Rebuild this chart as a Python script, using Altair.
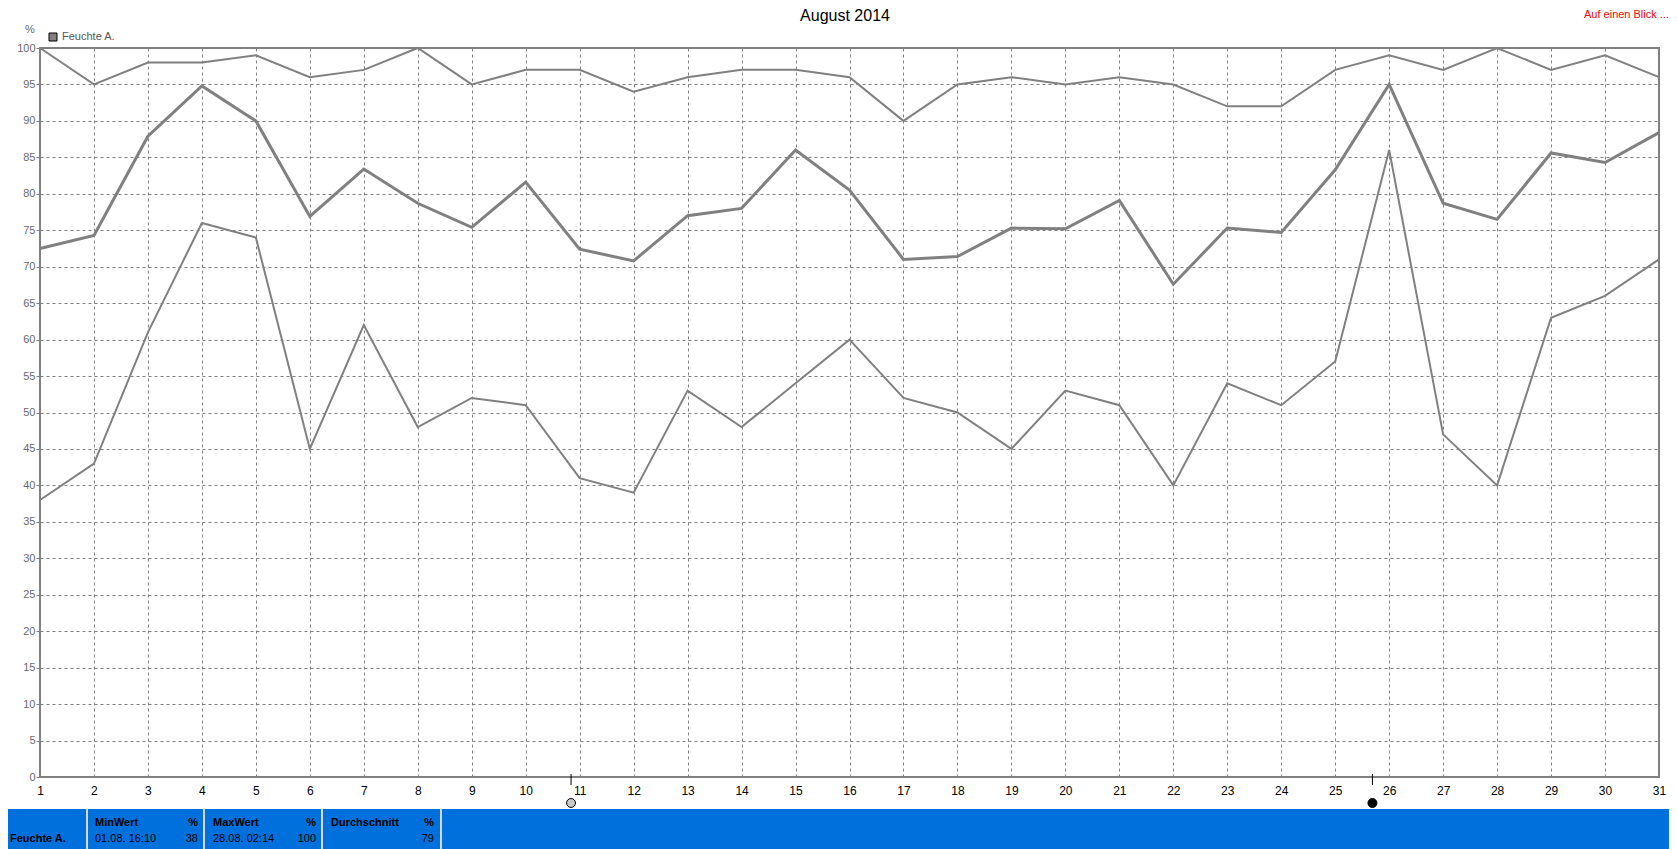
import altair as alt
import pandas as pd

# ---- data ----
days = list(range(1, 32))
max_vals = [100, 95, 98, 98, 99, 96, 97, 100, 95, 97, 97, 94, 96, 97, 97, 96,
            90, 95, 96, 95, 96, 95, 92, 92, 97, 99, 97, 100, 97, 99, 96]
mean_vals = [72.5, 74.3, 87.9, 94.8, 90.0, 76.9, 83.4, 78.7, 75.4, 81.6, 72.4,
             70.8, 77.0, 78.0, 86.0, 80.5, 71.0, 71.4, 75.3, 75.2, 79.1, 67.6,
             75.3, 74.7, 83.3, 95.0, 78.7, 76.5, 85.6, 84.3, 88.4]
min_vals = [38, 43, 61, 76, 74, 45, 62, 48, 52, 51, 41, 39, 53, 48, 54, 60,
            52, 50, 45, 53, 51, 40, 54, 51, 57, 86, 47, 40, 63, 66, 71]
moon_days = [10.84, 25.69]
moon_kind = ["full", "new"]
y_ticks = list(range(0, 101, 5))

title_text = "August 2014"
corner_text = "Auf einen Blick ..."
legend_text = "Feuchte A."
unit_text = "%"
footer_name = "Feuchte A."
footer_headers = ["MinWert", "MaxWert", "Durchschnitt"]
footer_times = ["01.08.  16:10", "28.08.  02:14", ""]
footer_values = ["38", "100", "79"]

FONT = "Liberation Sans"
GRAY = "#808080"

rows = []
for name, vals in [("max", max_vals), ("mean", mean_vals), ("min", min_vals)]:
    for d, v in zip(days, vals):
        rows.append({"day": d, "value": v, "series": name})
df = pd.DataFrame(rows)
moon_df = pd.DataFrame({"day": moon_days, "kind": moon_kind})
one = pd.DataFrame({"a": [0]})

xscale = alt.Scale(domain=[1, 31], nice=False, zero=False)
yscale = alt.Scale(domain=[0, 100], nice=False, zero=True)

xaxis = alt.Axis(values=days, format="d", title=None, grid=True, gridColor=GRAY,
                 gridDash=[3, 3], gridWidth=1, ticks=False, domain=False,
                 labelFont=FONT, labelFontSize=12, labelColor="black",
                 labelPadding=8, labelFlush=False)
yaxis = alt.Axis(values=y_ticks, title=None, grid=True, gridColor=GRAY,
                 gridDash=[3, 3], gridWidth=1, ticks=True, tickSize=4,
                 tickColor=GRAY, domain=False, labelFont=FONT, labelFontSize=11,
                 labelColor="#6a6a6a", labelPadding=1)

X = alt.X("day:Q", scale=xscale, axis=xaxis)
Y = alt.Y("value:Q", scale=yscale, axis=yaxis)

base = alt.Chart(df)


def line(series, width):
    return base.transform_filter(alt.datum.series == series).mark_line(
        color=GRAY, strokeWidth=width, strokeJoin="miter").encode(x=X, y=Y)


def label(text, x, y, size=11, color="black", weight="normal", align="left"):
    return alt.Chart(one).mark_text(
        text=text, font=FONT, fontSize=size, color=color, fontWeight=weight,
        align=align, baseline="middle").encode(x=alt.value(x), y=alt.value(y))


def vrule(x, y1, y2, color, width):
    return alt.Chart(one).mark_rule(color=color, strokeWidth=width).encode(
        x=alt.value(x), y=alt.value(y1), y2=alt.value(y2))


layers = [line("max", 2), line("mean", 3), line("min", 2)]

# moon markers
layers.append(
    alt.Chart(moon_df).mark_rule(color="black", strokeWidth=1).encode(
        x=X, y=alt.value(726), y2=alt.value(737)))
layers.append(
    alt.Chart(moon_df).mark_point(filled=True, size=80, stroke="black",
                                  strokeWidth=1, opacity=1).encode(
        x=X,
        y=alt.value(755),
        fill=alt.Fill("kind:N", scale=alt.Scale(domain=["full", "new"],
                                                range=["#c8c8c8", "black"]),
                      legend=None)))

# header texts
layers.append(label(title_text, 805, -32, size=16, align="center"))
layers.append(label(corner_text, 1629, -33, size=11, color="red", align="right"))
layers.append(label(unit_text, -15, -18, size=11, color="#6a6a6a"))
layers.append(alt.Chart(one).mark_square(size=64, fill=GRAY, stroke="black",
                                         strokeWidth=1, opacity=1).encode(
    x=alt.value(13), y=alt.value(-11)))
layers.append(label(legend_text, 22, -11, size=11, color="#555555"))

# footer bar
layers.append(alt.Chart(one).mark_rect(color="#0070DD").encode(
    x=alt.value(-32), x2=alt.value(1629), y=alt.value(761), y2=alt.value(801)))
for sx in [47, 164, 282, 401]:
    layers.append(vrule(sx, 761, 801, "#d8d8d8", 2))
layers.append(label(footer_name, -30, 791, weight="bold"))
hx = [55, 173, 291]
rx = [158, 276, 394]
for i in range(3):
    layers.append(label(footer_headers[i], hx[i], 775, weight="bold"))
    layers.append(label(unit_text, rx[i], 775, weight="bold", align="right"))
    if footer_times[i]:
        layers.append(label(footer_times[i], hx[i], 791))
    layers.append(label(footer_values[i], rx[i], 791, align="right"))

chart = alt.layer(*layers).properties(
    width=1619, height=729,
    padding={"left": 32, "top": 40, "right": 10, "bottom": 72},
    autosize=alt.AutoSizeParams(type="none"),
    background="white",
).configure_view(stroke=GRAY, strokeWidth=2)

chart.save("out.html", embed_options={"renderer": "svg", "actions": False})
